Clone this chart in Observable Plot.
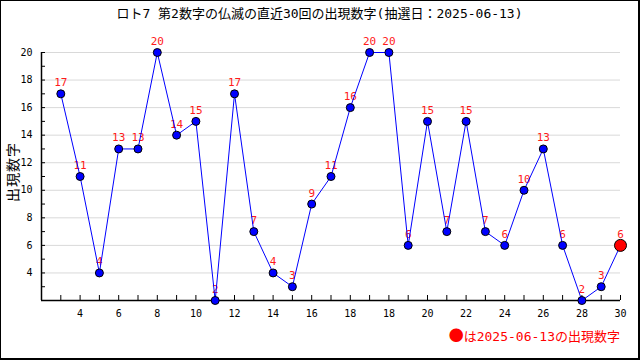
<!DOCTYPE html>
<html><head><meta charset="utf-8">
<script src="https://cdn.jsdelivr.net/npm/d3@7"></script>
<script src="https://cdn.jsdelivr.net/npm/@observablehq/plot@0.6"></script>
<style>
body{margin:0;background:#fff;}
#frame{position:relative;width:640px;height:360px;box-sizing:border-box;border-style:solid;border-color:#000;border-width:1px 2px 2px 1px;background:#fff;overflow:hidden;font-family:"DejaVu Sans Mono","Noto Sans CJK JP",monospace;}
#title{height:26px;line-height:26px;text-align:center;font-size:13px;color:#000;white-space:nowrap;}
#ylab{position:absolute;left:11px;top:171px;transform:translate(-50%,-50%) rotate(-90deg);font-size:14px;letter-spacing:1px;white-space:nowrap;font-family:"Noto Sans CJK JP",sans-serif;color:#000;}
#legend{position:absolute;right:18px;top:325px;font-size:13px;line-height:18px;color:#ff0000;white-space:nowrap;}
#legend .mk{font-family:"Noto Sans CJK JP",sans-serif;font-size:15px;}
#chart svg{display:block;}
</style>
</head><body>
<div id="frame">
  <div id="title">ロト7 第2数字の仏滅の直近30回の出現数字(抽選日：2025-06-13)</div>
  <div id="chart"></div>
  <div id="ylab">出現数字</div>
  <div id="legend"><span class="mk">●</span>は2025-06-13の出現数字</div>
</div>
<script>
// Values of the last 30 draws (oldest -> newest)
const values = [17, 11, 4, 13, 13, 20, 14, 15, 2, 17, 7, 4, 3, 9, 11, 16, 20, 20, 6, 15, 7, 15, 7, 6, 10, 13, 6, 2, 3, 6];
// x tick positions and their labels, as printed on the original chart
const xTickPos = [2, 4, 6, 8, 10, 12, 14, 16, 18, 20, 22, 24, 26, 28, 30];
const xTickLabels = ["4", "6", "8", "10", "12", "14", "16", "18", "18", "20", "22", "24", "26", "28", "30"];
const yTickLabels = [4, 6, 8, 10, 12, 14, 16, 18, 20];
const yMinorTicks = [3, 4, 5, 6, 7, 8, 9, 10, 11, 12, 13, 14, 15, 16, 17, 18, 19, 20];
const yDomain = [2, 20];

const data = values.map((v, i) => ({x: i + 1, v}));
const xMinorTicks = data.map(d => d.x);
const last = data.slice(-1);
const prior = data.slice(0, -1);

const W = 637, H = 300, mL = 40, mR = 18, mT = 25, mB = 27;
const innerW = W - mL - mR, innerH = H - mT - mB;

const chart = Plot.plot({
  width: W, height: H,
  marginLeft: mL, marginRight: mR, marginTop: mT, marginBottom: mB,
  style: {fontFamily: '"DejaVu Sans Mono", monospace', fontSize: "10px", color: "#000", background: "transparent", overflow: "visible"},
  x: {domain: [0, 30], ticks: xTickPos, tickFormat: d => xTickLabels[xTickPos.indexOf(d)], tickSize: 0, tickPadding: 9, label: null},
  y: {domain: yDomain, ticks: yTickLabels, tickSize: 0, tickPadding: 9, label: null},
  marks: [
    Plot.ruleY(yTickLabels, {stroke: "#d9d9d9", strokeWidth: 1}),
    Plot.tickX(xMinorTicks, {x: d => d, stroke: "#000", insetTop: innerH - 5}),
    Plot.tickY(yMinorTicks, {y: d => d, stroke: "#000", insetRight: innerW - 4}),
    Plot.ruleX([0], {stroke: "#000", strokeWidth: 1.5}),
    Plot.ruleY([yDomain[0]], {stroke: "#000", strokeWidth: 1.5}),
    Plot.text(data, {x: "x", y: "v", text: d => String(d.v), dy: -11, fill: "#ff1a1a", fontSize: 11}),
    Plot.line(data, {x: "x", y: "v", stroke: "#0000ff", strokeWidth: 1}),
    Plot.dot(prior, {x: "x", y: "v", r: 4, fill: "#0000ff", stroke: "#000", strokeWidth: 1}),
    Plot.dot(last, {x: "x", y: "v", r: 6, fill: "#ff0000", stroke: "#000", strokeWidth: 1})
  ]
});
document.getElementById("chart").appendChild(chart);
</script>
</body></html>
